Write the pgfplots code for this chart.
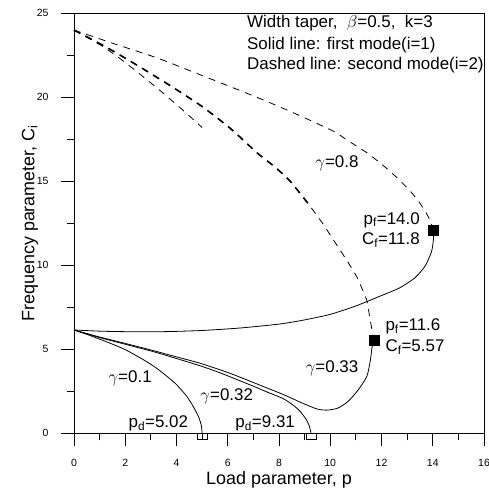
\documentclass[border=0pt]{standalone}
\usepackage{fontspec}
\setmainfont{Liberation Sans}
\usepackage{pgfplots}
\pgfplotsset{compat=1.18}

\pgfplotstableread{
x y
0 6.15
1 6.08
2 6.05
3.5 6.05
5 6.12
6.5 6.27
8 6.5
9 6.75
10 7.08
11 7.58
12 8.2
12.7 8.65
13.3 9.25
13.7 9.95
13.95 10.8
14.03 11.6
14.0 12.1
}\solideight
\pgfplotstableread{
x y
0 24
1.54 23.2
3.23 22.35
4.66 21.5
7.14 20.0
8.6 19.05
10.1 18.0
10.65 17.46
11.43 16.7
12.1 15.9
12.65 15.15
13.1 14.45
13.45 13.8
13.75 13.1
13.93 12.55
14.0 12.1
}\dasheight
\pgfplotstableread{
x y
0 24
1.3 22.95
2.58 21.8
3.8 20.65
5.0 19.45
6.1 18.15
7.14 16.7
7.8 15.9
8.44 15.0
9.22 13.5
9.7 12.5
10.13 11.5
10.6 10.4
11.04 9.3
11.3 8.4
11.43 7.9
11.56 6.75
11.7 5.55
}\dashthreethree
\pgfplotstableread{
x y
0 24
1.3 22.95
2.58 21.8
3.8 20.65
5.0 19.45
6.1 18.15
7.14 16.7
7.8 15.9
8.44 15.0
9.25 13.45
}\dashthreetwo
\pgfplotstableread{
x y
0 24
1.15 23.0
2.06 22.0
3.36 20.4
4.2 19.3
5.0 18.2
}\dashone
\pgfplotstableread{
x y
0 6.15
0.7 5.78
1.41 5.36
2.0 4.98
2.71 4.38
3.2 3.9
3.62 3.4
4.0 2.9
4.4 2.2
4.65 1.6
4.86 0.99
4.97 0.45
5.0 0
}\solidone
\pgfplotstableread{
x y
0 6.15
1 5.7
2 5.3
3.1 4.86
4 4.45
4.92 4.02
5.7 3.6
6.875 2.88
7.5 2.48
8.18 2.05
8.6 1.62
8.83 1.3
9.05 0.85
9.18 0.45
9.25 0
}\solidthreetwo
\pgfplotstableread{
x y
0 6.15
1 5.73
2 5.35
3.1 4.92
4 4.55
4.92 4.17
6 3.62
6.875 3.1
8.18 2.3
8.83 1.85
9.48 1.45
9.87 1.38
10.3 1.5
10.7 1.9
11.1 2.6
11.43 3.4
11.56 4.3
11.63 5.1
11.7 5.55
}\solidthreethree

\pgfplotsset{
  curve/.style={black, line width=0.8pt, smooth, tension=0.4, mark=none},
  dcurve/.style={curve, dash pattern=on 7bp off 6bp},
}

\begin{document}
\begin{tikzpicture}
\path[use as bounding box] (-74bp,-59.7bp) rectangle (415bp,433.3bp);
\begin{axis}[
  at={(0,0)}, anchor=south west,
  scale only axis, width=410bp, height=420bp,
  xmin=0, xmax=16, ymin=0, ymax=25,
  xtick={0,2,...,16}, ytick={0,5,...,25},
  minor x tick num=1, minor y tick num=1,
  tick align=outside, tick pos=left,
  major tick length=13bp, minor tick length=7bp,
  every tick/.style={black, line width=0.8pt},
  axis line style={line width=0.8pt},
  tick label style={font=\fontsize{10.5}{12}\selectfont},
  xticklabel style={yshift=-9bp},
  yticklabel style={xshift=-9bp},
  /pgf/number format/assume math mode=true,
  xlabel={Load parameter, p},
  ylabel={Frequency parameter, C\textsubscript{i}},
  label style={font=\fontsize{18}{21}\selectfont},
  xlabel style={yshift=2bp},
  ylabel style={yshift=-8bp},
  clip=false,
]
\addplot[curve] table {\solideight};
\addplot[dcurve] table {\dasheight};
\addplot[dcurve, line width=1.6pt] table {\dashthreetwo};
\addplot[dcurve] table {\dashthreethree};
\addplot[dcurve] table {\dashone};
\addplot[curve] table {\solidone};
\addplot[curve] table {\solidthreetwo};
\addplot[curve] table {\solidthreethree};
\addplot[black, only marks, mark=square*, mark size=5bp] coordinates {(14.0,12.1) (11.7,5.55)};
\addplot[black, only marks, mark=square, mark size=3.2bp, mark options={xscale=1.6, line width=0.8pt}] coordinates {(5.02,-0.2) (9.25,-0.2)};

\begin{scope}[every node/.style={font=\fontsize{17}{20}\selectfont, inner sep=0pt}]
\node[anchor=west] at (axis cs:6.75,24.42) {Width taper, \ $\beta$=0.5, \ k=3};
\node[anchor=west] at (axis cs:6.75,23.1) {Solid line: first mode(i=1)};
\node[anchor=west] at (axis cs:6.75,21.9) {Dashed line: second mode(i=2)};
\node at (axis cs:10.26,16.07) {$\gamma$=0.8};
\node[anchor=east] at (axis cs:13.5,12.7) {p\textsubscript{f}=14.0};
\node[anchor=east] at (axis cs:13.5,11.5) {C\textsubscript{f}=11.8};
\node[anchor=west] at (axis cs:12.15,6.35) {p\textsubscript{f}=11.6};
\node[anchor=west] at (axis cs:12.15,5.12) {C\textsubscript{f}=5.57};
\node at (axis cs:10.07,3.87) {$\gamma$=0.33};
\node at (axis cs:2.19,3.27) {$\gamma$=0.1};
\node at (axis cs:5.96,2.18) {$\gamma$=0.32};
\node at (axis cs:3.29,0.6) {p\textsubscript{d}=5.02};
\node at (axis cs:7.46,0.6) {p\textsubscript{d}=9.31};
\end{scope}
\end{axis}
\end{tikzpicture}
\end{document}
